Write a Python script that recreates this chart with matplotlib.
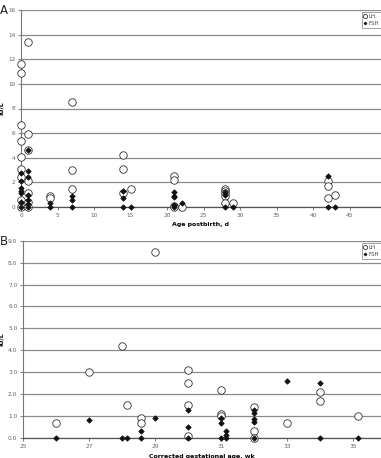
#!/usr/bin/env python3

import matplotlib
matplotlib.use('Agg')
import matplotlib.pyplot as plt

# Panel A: age postbirth (d) vs IU/L
a_lh_x  = [0, 0, 0, 0, 0, 0, 0, 0, 0,
           1, 1, 1, 1, 1, 1, 1,
           4, 4, 7, 7, 7, 14, 14, 14, 15,
           21, 21, 21, 21, 22,
           28, 28, 28, 28, 28, 29,
           42, 42, 42, 43]
a_lh_y  = [11.6, 10.9, 6.7, 5.4, 4.1, 3.1, 2.4, 0.6, 0.0,
           13.4, 5.9, 4.6, 2.1, 1.1, 0.4, 0.0,
           0.9, 0.7, 8.5, 3.0, 1.5, 4.2, 3.1, 1.1, 1.5,
           2.5, 2.2, 0.1, 0.0, 0.0,
           1.45, 1.3, 1.1, 0.9, 0.3, 0.3,
           2.1, 1.7, 0.7, 1.0]
a_fsh_x = [0, 0, 0, 0, 0, 0, 0,
           1, 1, 1, 1, 1, 1, 1,
           4, 4, 7, 7, 7, 14, 14, 14, 15,
           21, 21, 21, 21, 21, 22,
           28, 28, 28, 29,
           42, 42, 43]
a_fsh_y = [2.8, 2.1, 1.55, 1.3, 1.15, 0.4, 0.0,
           4.6, 2.9, 2.4, 0.95, 0.55, 0.25, 0.0,
           0.3, 0.0, 0.9, 0.6, 0.0, 1.3, 0.7, 0.0, 0.0,
           1.2, 0.9, 0.8, 0.15, 0.0, 0.3,
           1.25, 1.0, 0.0, 0.0,
           2.55, 0.0, 0.0]

# Panel B: corrected gestational age (wk) vs IU/L
b_lh_x  = [26, 27, 28, 28.14, 28.57, 28.57, 29,
           30, 30, 30, 30, 31, 31, 31,
           32, 32, 32, 33, 34, 34, 35.14]
b_lh_y  = [0.7, 3.0, 4.2, 1.5, 0.9, 0.7, 8.5,
           3.1, 2.5, 1.5, 0.1, 2.2, 1.1, 1.0,
           1.4, 0.3, 0.0, 0.7, 2.1, 1.7, 1.0]
b_fsh_x = [26, 27, 28, 28.14, 28.57, 28.57, 29,
           30, 30, 30, 31, 31, 31, 31.14, 31.14, 31.14,
           32, 32, 32, 32, 32, 33, 34, 34, 35.14]
b_fsh_y = [0.0, 0.8, 0.0, 0.0, 0.3, 0.0, 0.9,
           1.3, 0.5, 0.0, 0.9, 0.7, 0.0, 0.3, 0.15, 0.0,
           1.3, 1.15, 0.85, 0.75, 0.0, 2.6, 2.5, 0.0, 0.0]

a_yticks = list(range(0, 17, 2))
a_xticks = list(range(0, 46, 5))
b_yticks = [0, 1, 2, 3, 4, 5, 6, 7, 8, 9]
b_xticks = [25, 27, 29, 31, 33, 35]

W, H = 381, 458
fig = plt.figure(figsize=(W/100, H/100), dpi=100)

lh_kw  = dict(ls='none', marker='o', ms=5.4, mfc='white', mec='#333333', mew=0.6, clip_on=False, zorder=3)
fsh_kw = dict(ls='none', marker='D', ms=2.8, mfc='#111111', mec='#111111', mew=0.5, clip_on=False, zorder=4)


def style_axes(ax, yticks, xticks, yfmt, leg_top):
    ax.set_yticks(yticks)
    ax.set_yticklabels([yfmt.format(v) for v in yticks])
    ax.set_xticks(xticks)
    ax.grid(axis='y', color='#8a8a8a', lw=0.9)
    ax.set_axisbelow(True)
    for s in ['top', 'right']:
        ax.spines[s].set_visible(False)
    ax.spines['left'].set_color('#777777')
    ax.spines['bottom'].set_color('#555555')
    ax.spines['left'].set_linewidth(0.8)
    ax.spines['bottom'].set_linewidth(0.9)
    ax.tick_params(labelsize=4.2, colors='#666666', length=2, width=0.6, pad=2)
    ax.set_ylabel('IU/L', fontsize=4.5, fontweight='bold', labelpad=3)
    # legend box starts near the right edge and runs off the picture, as in the source
    leg = ax.legend(loc='upper left', bbox_to_anchor=(362/W, 1 - leg_top/H),
                    bbox_transform=fig.transFigure, fontsize=4, frameon=True,
                    fancybox=False, markerscale=0.55, handlelength=0.5,
                    handletextpad=0.25, borderpad=0.35, labelspacing=0.35,
                    borderaxespad=0)
    leg.get_frame().set_edgecolor('#777777')
    leg.get_frame().set_linewidth(0.6)
    for t in leg.get_texts():
        t.set_color('#444444')


# panel A
axA = fig.add_axes([21/W, (H-207)/H, (W-21)/W, 197/H])
axA.plot(a_lh_x, a_lh_y, label='LH', **lh_kw)
axA.plot(a_fsh_x, a_fsh_y, label='FSH', **fsh_kw)
axA.set_xlim(0, 49.3)
axA.set_ylim(0, 16)
style_axes(axA, a_yticks, a_xticks, '{:d}', 12)
axA.set_xlabel('Age postbirth, d', fontsize=4.5, fontweight='bold', labelpad=3)
fig.text(0, 1 - 14/H, 'A', fontsize=8.5, color='#222222', va='baseline')

# panel B
axB = fig.add_axes([23/W, (H-438)/H, (W-23)/W, 197.3/H])
axB.plot(b_lh_x, b_lh_y, label='LH', **lh_kw)
axB.plot(b_fsh_x, b_fsh_y, label='FSH', **fsh_kw)
axB.set_xlim(25, 35.85)
axB.set_ylim(0, 9)
style_axes(axB, b_yticks, b_xticks, '{:.1f}', 243)
axB.set_xlabel('Corrected gestational age, wk', fontsize=4.5, fontweight='bold', labelpad=4)
fig.text(0, 1 - 245/H, 'B', fontsize=8.5, color='#222222', va='baseline')

fig.savefig('out.png', dpi=100)
